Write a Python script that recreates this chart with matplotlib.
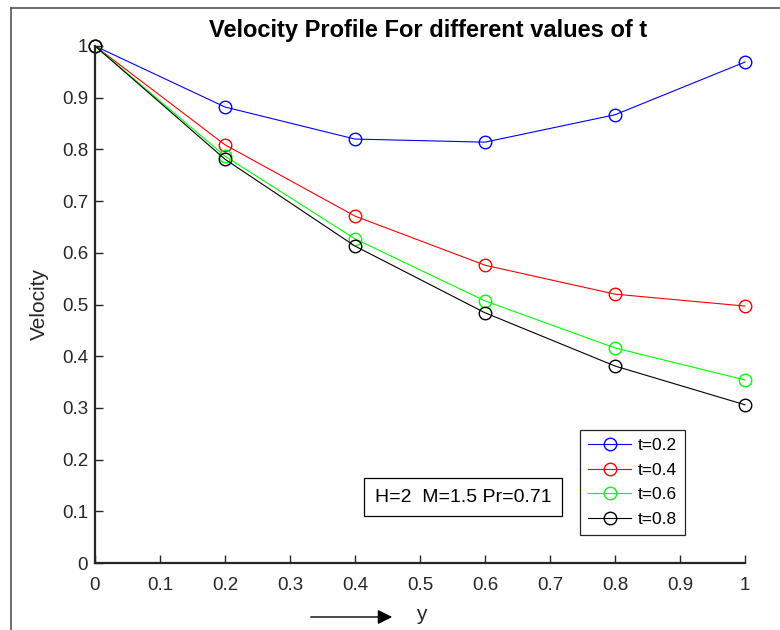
import numpy as np
import matplotlib.pyplot as plt
from matplotlib.lines import Line2D

plt.rcParams['font.family'] = ['Liberation Sans', 'DejaVu Sans']

## data
y_pos = [0, 0.2, 0.4, 0.6, 0.8, 1.0]
vel_t02 = [1.0, 0.882, 0.820, 0.814, 0.867, 0.969]
vel_t04 = [1.0, 0.809, 0.671, 0.576, 0.520, 0.497]
vel_t06 = [1.0, 0.787, 0.627, 0.507, 0.416, 0.354]
vel_t08 = [1.0, 0.781, 0.613, 0.484, 0.381, 0.306]
labels = ['t=0.2', 't=0.4', 't=0.6', 't=0.8']
colors = ['#0000ff', '#ff0000', '#00ff00', '#000000']
tick_labels = ['0', '0.1', '0.2', '0.3', '0.4', '0.5', '0.6', '0.7', '0.8', '0.9', '1']

W, H = 780, 630
fig = plt.figure(figsize=(7.8, 6.3), dpi=100)
ax = fig.add_axes([95 / W, 1 - 563 / H, 650 / W, 517 / H])

for vals, lab, c in zip([vel_t02, vel_t04, vel_t06, vel_t08], labels, colors):
    ax.plot(y_pos, vals, color=c, lw=0.8, marker='o', ms=9, mfc='none', mew=1.0, label=lab, clip_on=False)

ax.set_xlim(0, 1)
ax.set_ylim(0, 1)
ax.set_xticks(np.arange(0, 1.01, 0.1))
ax.set_yticks(np.arange(0, 1.01, 0.1))
ax.set_xticklabels(tick_labels)
ax.set_yticklabels(tick_labels)
ax.tick_params(direction='in', length=6, width=1, labelsize=13.5, colors='#262626')
ax.tick_params(axis='x', pad=10)
ax.tick_params(axis='y', pad=5)
for s in ['top', 'right']:
    ax.spines[s].set_visible(False)
for s in ['left', 'bottom']:
    ax.spines[s].set_linewidth(1.6)
    ax.spines[s].set_color('#262626')

ax.set_ylabel('Velocity', fontsize=15, color='#262626', labelpad=9)
fig.text(428 / W, 1 - 30 / H, 'Velocity Profile For different values of t', ha='center', va='center',
         fontsize=17, fontweight='bold')

# x label with arrow
fig.text(421 / W, 1 - 615 / H, 'y', ha='center', va='center', fontsize=15, color='#262626')
ax.annotate('', xy=(395 / W, 1 - 617 / H), xytext=(308 / W, 1 - 617 / H), xycoords='figure fraction',
            arrowprops=dict(arrowstyle='-|>', color='black', lw=1.0, mutation_scale=22))

# parameter box
fig.text(463 / W, 1 - 497 / H, 'H=2  M=1.5 Pr=0.71', ha='center', va='center', fontsize=14,
         bbox=dict(boxstyle='square,pad=0.55', fc='white', ec='black', lw=0.9))

leg = ax.legend(loc='upper left', bbox_to_anchor=(580 / W, 1 - 430 / H), bbox_transform=fig.transFigure,
                borderaxespad=0, fontsize=12.5, fancybox=False, framealpha=1, edgecolor='#262626',
                handlelength=2.5, labelspacing=0.55, borderpad=0.45, handletextpad=0.4)
leg.get_frame().set_linewidth(0.9)

# outer frame lines
fig.add_artist(Line2D([11 / W, 11 / W], [0, 1 - 8 / H], color='#555555', lw=1.2))
fig.add_artist(Line2D([11 / W, 1], [1 - 8 / H, 1 - 8 / H], color='#555555', lw=1.2))

fig.savefig('out.png', dpi=100)
